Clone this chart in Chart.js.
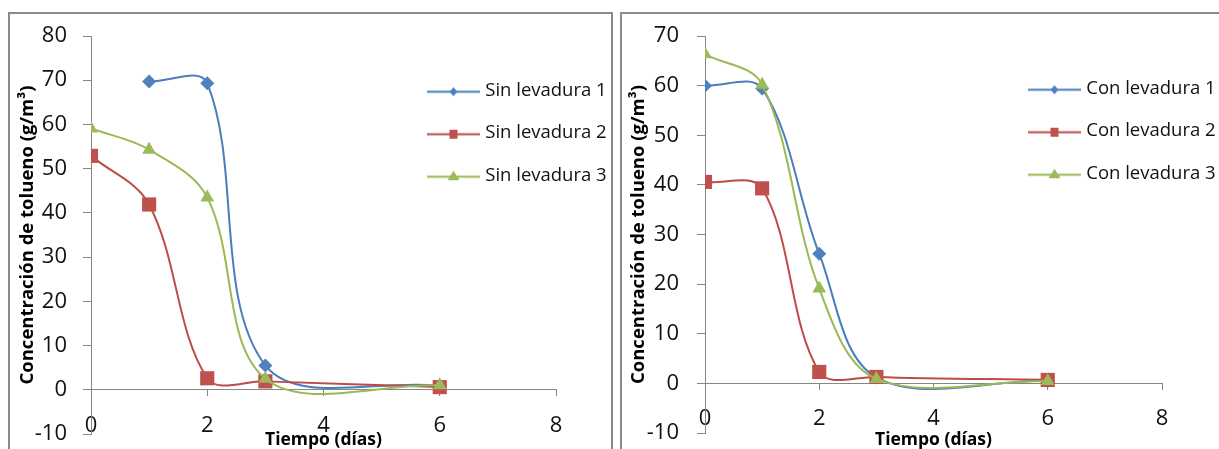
<!DOCTYPE html>
<html>
<head>
<meta charset="utf-8">
<script src="https://cdn.jsdelivr.net/npm/chart.js@4.4.1/dist/chart.umd.min.js"></script>
<style>
  html, body { margin: 0; padding: 0; background: #fff; overflow: hidden; width: 1219px; height: 449px; }
  #wrap { position: relative; width: 1219px; height: 449px; overflow: hidden; }
  canvas { position: absolute; top: 0; }
  #c1 { left: 0; }
  #c2 { left: 612px; }
  .frame { position: absolute; border: 2px solid #8a8a8a; box-sizing: border-box; pointer-events: none; }
</style>
</head>
<body>
<div id="wrap">
  <canvas id="c1" width="612" height="494"></canvas>
  <canvas id="c2" width="607" height="488"></canvas>
  <div class="frame" style="left:8px;top:12px;width:605px;height:480px"></div>
  <div class="frame" style="left:620px;top:12px;width:620px;height:480px"></div>
</div>
<script>
// Tiempo de muestreo (días)
const dias = [0, 1, 2, 3, 6];

// Concentración de tolueno (g/m³) — sin levadura
const sinLevadura1 = [null, 69.7, 69.3, 5.5, 0.9];
const sinLevadura2 = [52.9, 41.9, 2.6, 1.9, 0.6];
const sinLevadura3 = [59.1, 54.3, 43.5, 2.5, 1.0];

// Concentración de tolueno (g/m³) — con levadura
const conLevadura1 = [60.0, 59.4, 26.1, 1.2, 0.5];
const conLevadura2 = [40.6, 39.3, 2.3, 1.3, 0.7];
const conLevadura3 = [66.3, 60.2, 19.1, 0.9, 0.5];

const nombresSin = ['Sin levadura 1', 'Sin levadura 2', 'Sin levadura 3'];
const nombresCon = ['Con levadura 1', 'Con levadura 2', 'Con levadura 3'];

const xTicks = [0, 2, 4, 6, 8];
const yTicksSin = [-10, 0, 10, 20, 30, 40, 50, 60, 70, 80];
const yTicksCon = [-10, 0, 10, 20, 30, 40, 50, 60, 70];

const tituloX = 'Tiempo (días)';
const tituloY = 'Concentración de tolueno (g/m³)';

const estilos = [
  { line: '#4A7EBB', fill: '#4F81BD', point: 'rectRot', radius: 7 },
  { line: '#BE4B48', fill: '#C0504D', point: 'rect', radius: 10 },
  { line: '#98B954', fill: '#9BBB59', point: 'triangle', radius: 8 }
];

const FONT = "'Open Sans', 'DejaVu Sans', sans-serif";
const AXIS = '#868686';

function puntos(vals) {
  return dias.map((d, i) => ({ x: d, y: vals[i] })).filter(p => p.y !== null);
}

// small line-plus-marker swatch for the legend
function iconoLeyenda(est) {
  const c = document.createElement('canvas');
  c.width = 61; c.height = 16;
  const g = c.getContext('2d');
  const cy = 9.5;
  g.strokeStyle = est.line;
  g.lineWidth = 2;
  g.beginPath(); g.moveTo(8, cy); g.lineTo(61, cy); g.stroke();
  g.fillStyle = est.fill;
  const mx = 34.5;
  g.beginPath();
  if (est.point === 'rectRot') {
    g.moveTo(mx, cy - 4.5); g.lineTo(mx + 4, cy); g.lineTo(mx, cy + 4.5); g.lineTo(mx - 4, cy); g.closePath();
  } else if (est.point === 'rect') {
    g.rect(mx - 4, cy - 4.5, 8, 9);
  } else {
    g.moveTo(mx, cy - 6); g.lineTo(mx + 6, cy + 3.5); g.lineTo(mx - 6, cy + 3.5); g.closePath();
  }
  g.fill();
  return c;
}

function crearGrafico(id, nombres, series, yMax, yTicks, geo) {
  const datasets = series.map((vals, i) => ({
    label: nombres[i],
    data: puntos(vals),
    borderColor: estilos[i].line,
    backgroundColor: estilos[i].fill,
    pointBackgroundColor: estilos[i].fill,
    pointBorderColor: estilos[i].fill,
    pointBorderWidth: 0,
    pointStyle: estilos[i].point,
    pointRadius: estilos[i].radius,
    borderWidth: 2,
    tension: 0.35,
    fill: false,
    order: series.length - i
  }));
  const iconos = estilos.map(iconoLeyenda);

  const ubicarLeyenda = {
    id: 'ubicarLeyenda',
    afterLayout(chart) {
      const lg = chart.legend;
      lg.left = geo.legendX; lg.top = geo.legendY;
      lg.width = 230; lg.height = 200;
      lg.right = geo.legendX + 230; lg.bottom = geo.legendY + 200;
    }
  };

  return new Chart(document.getElementById(id), {
    type: 'line',
    data: { datasets },
    plugins: [ubicarLeyenda],
    options: {
      responsive: false,
      animation: false,
      devicePixelRatio: 1,
      layout: { padding: { left: geo.padLeft, top: geo.padTop, right: geo.padRight, bottom: geo.padBottom } },
      plugins: {
        tooltip: { enabled: false },
        legend: {
          position: 'chartArea',
          align: 'start',
          labels: {
            usePointStyle: true,
            pointStyleWidth: 53,
            padding: 24,
            color: '#111',
            font: { family: FONT, size: 18.5 },
            generateLabels: () => nombres.map((n, i) => ({
              text: n, pointStyle: iconos[i], datasetIndex: i, hidden: false,
              lineWidth: 0, fillStyle: estilos[i].fill, strokeStyle: estilos[i].line, fontColor: '#111'
            }))
          }
        }
      },
      scales: {
        x: {
          type: 'linear',
          position: { y: 0 },
          min: xTicks[0], max: xTicks[xTicks.length - 1],
          afterBuildTicks: (s) => { s.ticks = xTicks.map(v => ({ value: v })); },
          afterFit: (s) => { s.height = geo.xHeight; },
          grid: { drawOnChartArea: false, drawTicks: true, tickLength: 6, color: AXIS },
          border: { display: true, color: AXIS, width: 1 },
          ticks: { padding: geo.xTickPad, color: '#111', font: { family: FONT, size: 22 }, maxRotation: 0 },
          title: {
            display: true, text: tituloX, color: '#000',
            font: { family: FONT, size: 17.5, weight: 'bold' },
            padding: { top: 0, bottom: 0 }
          }
        },
        y: {
          type: 'linear',
          position: 'left',
          min: yTicks[0], max: yMax,
          afterBuildTicks: (s) => { s.ticks = yTicks.map(v => ({ value: v })); },
          afterFit: (s) => { s.width = geo.yWidth; },
          grid: { drawOnChartArea: false, drawTicks: true, tickLength: 8, color: AXIS },
          border: { display: true, color: AXIS, width: 1 },
          ticks: { padding: geo.yTickPad, color: '#111', font: { family: FONT, size: 22 } },
          title: {
            display: true, text: tituloY, color: '#000',
            font: { family: FONT, size: 18.5, weight: 'bold' },
            padding: { top: 0, bottom: 0 }
          }
        }
      }
    }
  });
}

crearGrafico('c1', nombresSin, [sinLevadura1, sinLevadura2, sinLevadura3], 80, yTicksSin, {
  padLeft: 17, padTop: 36, padRight: 56, padBottom: 60, yWidth: 74, xHeight: 61,
  xTickPad: 17, yTickPad: 16, legendX: 399, legendY: 57
});
crearGrafico('c2', nombresCon, [conLevadura1, conLevadura2, conLevadura3], 70, yTicksCon, {
  padLeft: 16, padTop: 36, padRight: 57, padBottom: 55, yWidth: 77, xHeight: 67,
  xTickPad: 16, yTickPad: 18, legendX: 388, legendY: 55
});
</script>
</body>
</html>
